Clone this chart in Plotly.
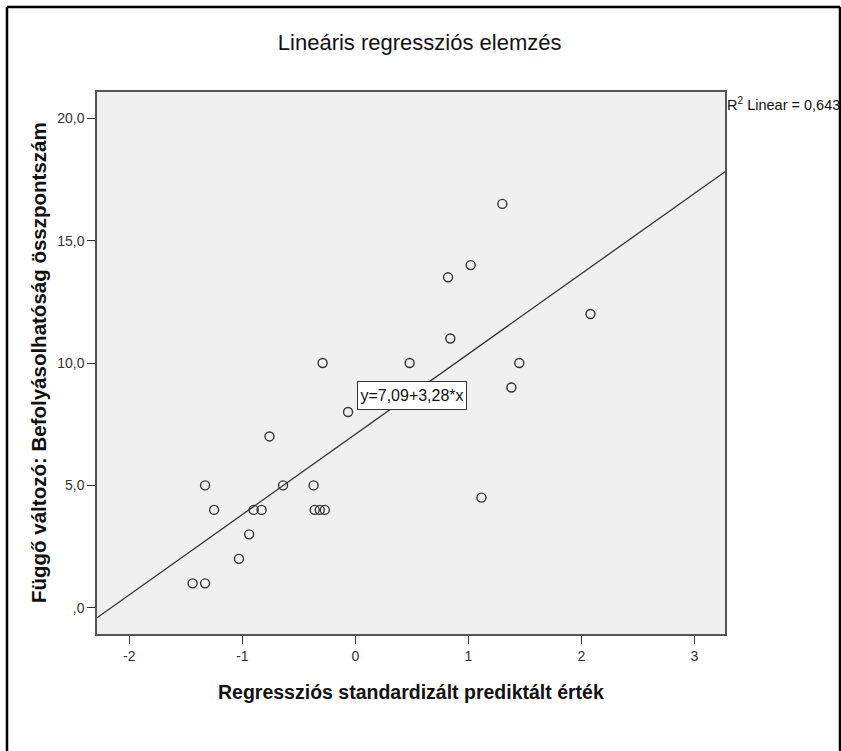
import plotly.graph_objects as go

# Data
x_pred = [-1.44, -1.33, -1.03, -0.94, -1.33, -1.25, -0.90, -0.83, -0.64, -0.76,
          -0.37, -0.36, -0.315, -0.27, -0.29, -0.065, 0.48, 1.30, 1.02, 0.82,
          0.84, 2.08, 1.45, 1.38, 1.115]
y_score = [1, 1, 2, 3, 5, 4, 4, 4, 5, 7,
           5, 4, 4, 4, 10, 8, 10, 16.5, 14, 13.5,
           11, 12, 10, 9, 4.5]

intercept = 7.09
slope = 3.28
r2_linear = "0,643"

x_ticks = [-2, -1, 0, 1, 2, 3]
x_ticktext = ["-2", "-1", "0", "1", "2", "3"]
y_ticks = [0, 5, 10, 15, 20]
y_ticktext = [",0", "5,0", "10,0", "15,0", "20,0"]

x_range = [-2.286, 3.27]
y_range = [-1.07, 21.07]

W, H = 841, 751
L, R, T, B = 97, 116, 92, 117
PW, PH = W - L - R, H - T - B

def px_to_paper_x(px):
    return (px - L) / PW

def px_to_paper_y(py):
    return (H - B - py) / PH

FONT = "Liberation Sans, Arial, sans-serif"
DARK = "#333333"
TXT = "#111111"

fig = go.Figure()

line_x = [x_range[0], x_range[1]]
line_y = [intercept + slope * v for v in line_x]
fig.add_trace(go.Scatter(x=line_x, y=line_y, mode="lines",
                         line=dict(color=DARK, width=1.3),
                         hoverinfo="skip", showlegend=False))

fig.add_trace(go.Scatter(x=x_pred, y=y_score, mode="markers",
                         marker=dict(symbol="circle-open", size=9,
                                     color=DARK, line=dict(color=DARK, width=1.4)),
                         showlegend=False))

fig.add_annotation(x=0.50, y=8.69, xref="x", yref="y",
                   text=f"y={str(intercept).replace('.', ',')}+{str(slope).replace('.', ',')}*x",
                   showarrow=False, bgcolor="white", bordercolor=DARK, borderwidth=1,
                   borderpad=2, width=104, height=23,
                   font=dict(family=FONT, size=16, color=TXT))

# R2 label
fig.add_annotation(x=px_to_paper_x(725), y=px_to_paper_y(104), xref="paper", yref="paper",
                   xanchor="left", yanchor="middle", showarrow=False,
                   text=f"R<sup>2</sup> Linear = {r2_linear}",
                   font=dict(family=FONT, size=14.5, color=TXT))

# Axis titles
fig.add_annotation(x=px_to_paper_x(411), y=px_to_paper_y(692), xref="paper", yref="paper",
                   xanchor="center", yanchor="middle", showarrow=False,
                   text="<b>Regressziós standardizált prediktált érték</b>",
                   font=dict(family=FONT, size=19.5, color=TXT))
fig.add_annotation(x=px_to_paper_x(38), y=px_to_paper_y(363), xref="paper", yref="paper",
                   xanchor="center", yanchor="middle", showarrow=False,
                   text="<b>Függő változó: Befolyásolhatóság összpontszám</b>",
                   font=dict(family=FONT, size=20.5, color=TXT), textangle=-90)

# Outer frame (left, top, right)
for x0, y0, x1, y1 in [(7, 7, 7, 760), (7, 7, 840, 7), (840, 7, 840, 760)]:
    fig.add_shape(type="line", xref="paper", yref="paper",
                  x0=px_to_paper_x(x0), y0=px_to_paper_y(y0),
                  x1=px_to_paper_x(x1), y1=px_to_paper_y(y1),
                  line=dict(color="black", width=2.5))

fig.update_layout(
    width=W, height=H,
    margin=dict(l=L, r=R, t=T, b=B, pad=0),
    paper_bgcolor="white",
    plot_bgcolor="#F0F0F0",
    title=dict(text="Lineáris regressziós elemzés", xref="container", yref="container",
               x=0.499, y=1 - 42 / H, xanchor="center", yanchor="middle",
               font=dict(family=FONT, size=22, color=TXT)),
    xaxis=dict(range=x_range, tickvals=x_ticks, ticktext=x_ticktext,
               showgrid=False, zeroline=False, showline=True, mirror=True,
               linecolor="#555555", linewidth=1.5,
               ticks="outside", ticklen=8, tickwidth=1, tickcolor=DARK,
               tickfont=dict(family=FONT, size=14, color=DARK)),
    yaxis=dict(range=y_range, tickvals=y_ticks, ticktext=y_ticktext,
               showgrid=False, zeroline=False, showline=True, mirror=True,
               linecolor="#555555", linewidth=1.5,
               ticks="outside", ticklen=8, tickwidth=1, tickcolor=DARK,
               tickfont=dict(family=FONT, size=14, color=DARK)),
    font=dict(family=FONT),
)

fig.write_html("out.html", config={"displayModeBar": False},
               post_script="document.body.style.margin='0';document.body.style.overflow='hidden';")
